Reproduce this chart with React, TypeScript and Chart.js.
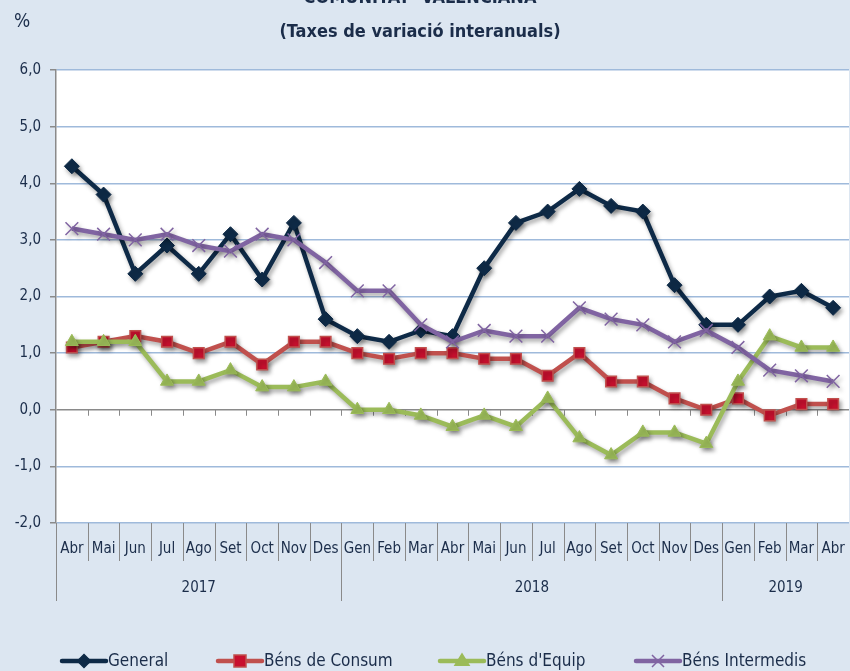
import React, { useEffect, useRef } from "react";
import { Chart, registerables } from "chart.js";

Chart.register(...registerables);

const months = ["Abr","Mai","Jun","Jul","Ago","Set","Oct","Nov","Des","Gen","Feb","Mar","Abr","Mai","Jun","Jul","Ago","Set","Oct","Nov","Des","Gen","Feb","Mar","Abr"];
const yearLabels = ["2017", "2018", "2019"];
const yearSpans = [9, 12, 4];

const general = [4.3,3.8,2.4,2.9,2.4,3.1,2.3,3.3,1.6,1.3,1.2,1.4,1.3,2.5,3.3,3.5,3.9,3.6,3.5,2.2,1.5,1.5,2.0,2.1,1.8];
const consum = [1.1,1.2,1.3,1.2,1.0,1.2,0.8,1.2,1.2,1.0,0.9,1.0,1.0,0.9,0.9,0.6,1.0,0.5,0.5,0.2,0.0,0.2,-0.1,0.1,0.1];
const equip = [1.2,1.2,1.2,0.5,0.5,0.7,0.4,0.4,0.5,0.0,0.0,-0.1,-0.3,-0.1,-0.3,0.2,-0.5,-0.8,-0.4,-0.4,-0.6,0.5,1.3,1.1,1.1];
const intermedis = [3.2,3.1,3.0,3.1,2.9,2.8,3.1,3.0,2.6,2.1,2.1,1.5,1.2,1.4,1.3,1.3,1.8,1.6,1.5,1.2,1.4,1.1,0.7,0.6,0.5];

const seriesNames = ["General", "Béns de Consum", "Béns d'Equip", "Béns Intermedis"];

const FONT = "'Liberation Sans Narrow', 'DejaVu Sans Condensed', 'Open Sans', sans-serif";
const TEXT = "#1b2d4a";
const BG = "#dce6f1";
const GRID = "#9fbadb";
const AXIS = "#8a8a8a";

const shadowPlugin = {
  id: "shadow",
  beforeDatasetDraw(chart: any) {
    const ctx = chart.ctx;
    ctx.save();
    ctx.shadowColor = "rgba(0,0,0,0.35)";
    ctx.shadowBlur = 4;
    ctx.shadowOffsetX = 2;
    ctx.shadowOffsetY = 3;
  },
  afterDatasetDraw(chart: any) {
    chart.ctx.restore();
  },
};

function drawMarker(ctx: CanvasRenderingContext2D, style: string, x: number, y: number, fill: string, stroke: string) {
  ctx.save();
  ctx.fillStyle = fill;
  ctx.strokeStyle = stroke;
  ctx.lineWidth = 1.5;
  ctx.beginPath();
  if (style === "rectRot") {
    const r = 6.5;
    ctx.moveTo(x, y - r); ctx.lineTo(x + r, y); ctx.lineTo(x, y + r); ctx.lineTo(x - r, y); ctx.closePath();
    ctx.fill(); ctx.stroke();
  } else if (style === "rect") {
    const r = 6;
    ctx.rect(x - r, y - r, 2 * r, 2 * r);
    ctx.fill(); ctx.stroke();
  } else if (style === "triangle") {
    const r = 7;
    ctx.moveTo(x, y - r); ctx.lineTo(x + r, y + r * 0.6); ctx.lineTo(x - r, y + r * 0.6); ctx.closePath();
    ctx.fill(); ctx.stroke();
  } else {
    const r = 6;
    ctx.moveTo(x - r, y - r); ctx.lineTo(x + r, y + r);
    ctx.moveTo(x + r, y - r); ctx.lineTo(x - r, y + r);
    ctx.stroke();
  }
  ctx.restore();
}

const decorPlugin = {
  id: "decor",
  beforeDraw(chart: any) {
    const { ctx, chartArea } = chart;
    ctx.save();
    ctx.fillStyle = BG;
    ctx.fillRect(0, 0, chart.width, chart.height);
    ctx.fillStyle = "#ffffff";
    ctx.fillRect(chartArea.left, chartArea.top, chartArea.right - chartArea.left, chartArea.bottom - chartArea.top);
    ctx.restore();
  },
  beforeDatasetsDraw(chart: any) {
    const { ctx, scales } = chart;
    const x = scales.x;
    const y0 = scales.y.getPixelForValue(0);
    ctx.save();
    ctx.strokeStyle = AXIS;
    ctx.lineWidth = 1;
    for (let i = 0; i < months.length - 1; i++) {
      const px = Math.round((x.getPixelForValue(i) + x.getPixelForValue(i + 1)) / 2) + 0.5;
      ctx.beginPath();
      ctx.moveTo(px, y0);
      ctx.lineTo(px, y0 + 6);
      ctx.stroke();
    }
    ctx.restore();
  },
  afterDraw(chart: any) {
    const { ctx, scales, chartArea } = chart;
    const x = scales.x;
    const bottom = chartArea.bottom;
    ctx.save();
    ctx.strokeStyle = AXIS;
    ctx.lineWidth = 1;
    const boundary = (i: number) => {
      if (i <= 0) return chartArea.left;
      if (i >= months.length) return chartArea.right;
      return (x.getPixelForValue(i - 1) + x.getPixelForValue(i)) / 2;
    };
    const yearStarts: number[] = [];
    let acc = 0;
    yearSpans.forEach((s) => { yearStarts.push(acc); acc += s; });
    for (let i = 0; i < months.length; i++) {
      const px = Math.round(boundary(i)) + 0.5;
      const isYear = yearStarts.includes(i);
      ctx.beginPath();
      ctx.moveTo(px, bottom);
      ctx.lineTo(px, bottom + (isYear ? 78 : 38));
      ctx.stroke();
    }
    ctx.fillStyle = TEXT;
    ctx.font = `15px ${FONT}`;
    ctx.textAlign = "center";
    ctx.textBaseline = "middle";
    yearLabels.forEach((lab, k) => {
      const a = boundary(yearStarts[k]);
      const b = boundary(yearStarts[k] + yearSpans[k]);
      ctx.fillText(lab, (a + b) / 2, 588);
    });
    ctx.font = `bold 18px ${FONT}`;
    ctx.fillText("COMUNITAT  VALENCIANA", 420, -2);
    ctx.fillText("(Taxes de variació interanuals)", 420, 32);
    ctx.font = `19px ${FONT}`;
    ctx.fillText("%", 22, 22);
    const lx = [62, 218, 440, 636];
    const ly = 661;
    chart.data.datasets.forEach((ds: any, i: number) => {
      const x0 = lx[i];
      ctx.save();
      ctx.strokeStyle = ds.borderColor;
      ctx.lineWidth = 4.5;
      ctx.lineCap = "round";
      ctx.beginPath();
      ctx.moveTo(x0, ly);
      ctx.lineTo(x0 + 44, ly);
      ctx.stroke();
      ctx.restore();
      drawMarker(ctx, ds.pointStyle, x0 + 22, ly, ds.pointBackgroundColor, ds.pointBorderColor);
      ctx.fillStyle = TEXT;
      ctx.font = `17px ${FONT}`;
      ctx.textAlign = "left";
      ctx.textBaseline = "middle";
      ctx.fillText(ds.label, x0 + 46, ly + 1);
    });
    ctx.restore();
  },
};

export default function App() {
  const ref = useRef<HTMLCanvasElement | null>(null);
  useEffect(() => {
    document.body.style.margin = "0";
    const canvas = ref.current;
    if (!canvas) return;
    const chart = new Chart(canvas, {
      type: "line",
      data: {
        labels: months,
        datasets: [
          {
            label: seriesNames[0], data: general, order: 4,
            borderColor: "#0e2a47", borderWidth: 4.5,
            pointStyle: "rectRot", pointRadius: 7.5, pointBackgroundColor: "#0e2a47", pointBorderColor: "#0e2a47", pointBorderWidth: 1,
          },
          {
            label: seriesNames[1], data: consum, order: 3,
            borderColor: "#c0504d", borderWidth: 4.5,
            pointStyle: "rect", pointRadius: 7.5, pointBackgroundColor: "#c8102e", pointBorderColor: "#c0504d", pointBorderWidth: 1.5,
          },
          {
            label: seriesNames[2], data: equip, order: 2,
            borderColor: "#9bbb59", borderWidth: 4.5,
            pointStyle: "triangle", pointRadius: 7.5, pointBackgroundColor: "#9bbb59", pointBorderColor: "#9bbb59", pointBorderWidth: 1,
          },
          {
            label: seriesNames[3], data: intermedis, order: 1,
            borderColor: "#8064a2", borderWidth: 4.5,
            pointStyle: "crossRot", pointRadius: 9, pointBackgroundColor: "#8064a2", pointBorderColor: "#8064a2", pointBorderWidth: 1.5,
          },
        ],
      },
      options: {
        responsive: false,
        animation: false,
        layout: { autoPadding: false, padding: { top: 70, right: 1, left: 0, bottom: 0 } },
        plugins: { legend: { display: false }, title: { display: false }, tooltip: { enabled: false } },
        elements: { line: { tension: 0 } },
        scales: {
          x: {
            type: "category",
            offset: true,
            grid: { display: false, drawTicks: false },
            border: { display: false },
            ticks: { color: TEXT, font: { family: FONT, size: 15 }, padding: 17, maxRotation: 0, autoSkip: false },
            afterFit: (s: any) => { s.height = 148; s.paddingLeft = 0; s.paddingRight = 0; },
          },
          y: {
            min: -2, max: 6,
            ticks: {
              stepSize: 1, color: TEXT, font: { family: FONT, size: 15 }, padding: 9,
              callback: (v: any) => Number(v).toFixed(1).replace(".", ","),
            },
            grid: {
              color: (c: any) => (c.tick && c.tick.value === 0 ? AXIS : GRID),
              lineWidth: 1.5,
              tickColor: AXIS,
              tickLength: 6,
              drawTicks: true,
            },
            border: { display: true, color: AXIS, width: 1.5 },
            afterFit: (s: any) => { s.width = 56; s.paddingTop = 0; s.paddingBottom = 0; },
          },
        },
      },
      plugins: [decorPlugin, shadowPlugin],
    });
    return () => chart.destroy();
  }, []);
  return (
    <div style={{ width: 850, height: 671 }}>
      <canvas ref={ref} width={850} height={671} style={{ display: "block" }} />
    </div>
  );
}
